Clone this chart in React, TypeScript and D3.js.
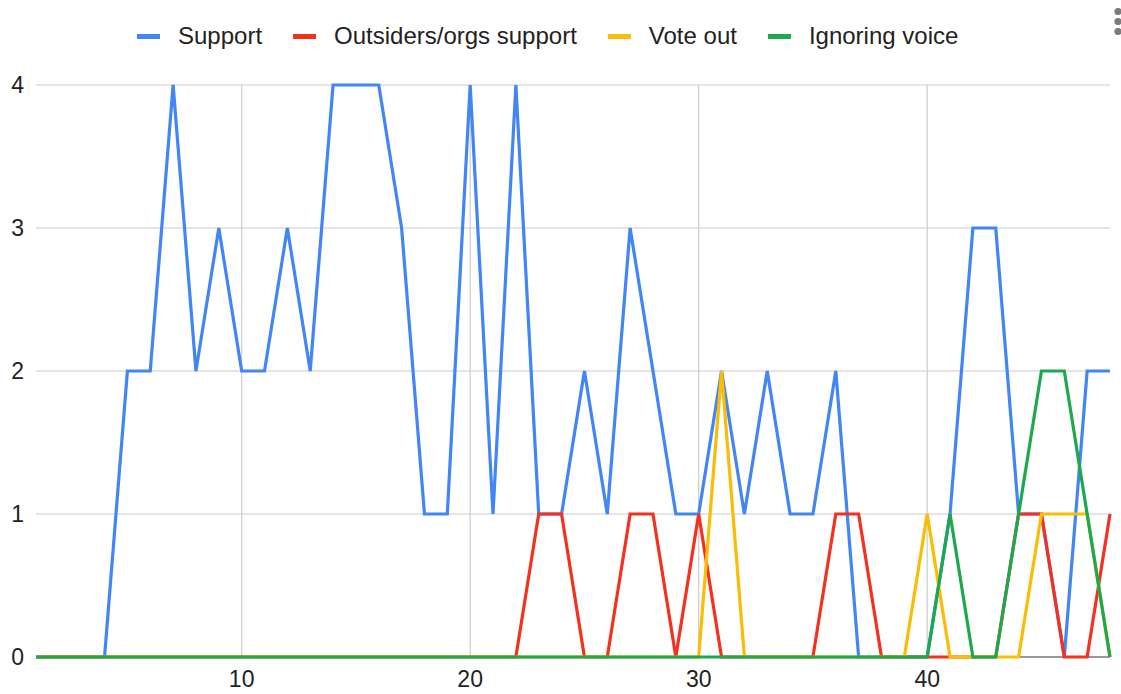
import React from "react";
import * as d3 from "d3";

const xValues = [1,2,3,4,5,6,7,8,9,10,11,12,13,14,15,16,17,18,19,20,21,22,23,24,25,26,27,28,29,30,31,32,33,34,35,36,37,38,39,40,41,42,43,44,45,46,47,48];
const support = [0,0,0,0,2,2,4,2,3,2,2,3,2,4,4,4,3,1,1,4,1,4,1,1,2,1,3,2,1,1,2,1,2,1,1,2,0,0,0,0,1,3,3,1,1,0,2,2];
const outsiders = [0,0,0,0,0,0,0,0,0,0,0,0,0,0,0,0,0,0,0,0,0,0,1,1,0,0,1,1,0,1,0,0,0,0,0,1,1,0,0,0,0,0,0,1,1,0,0,1];
const voteOut = [0,0,0,0,0,0,0,0,0,0,0,0,0,0,0,0,0,0,0,0,0,0,0,0,0,0,0,0,0,0,2,0,0,0,0,0,0,0,0,1,0,0,0,0,1,1,1,0];
const ignoring = [0,0,0,0,0,0,0,0,0,0,0,0,0,0,0,0,0,0,0,0,0,0,0,0,0,0,0,0,0,0,0,0,0,0,0,0,0,0,0,0,1,0,0,1,2,2,1,0];

const seriesNames = ["Support", "Outsiders/orgs support", "Vote out", "Ignoring voice"];
const seriesColors = ["#4285f4", "#f4301f", "#fbbc04", "#1ca84c"];
const seriesData = [support, outsiders, voteOut, ignoring];
const xTicks = [10, 20, 30, 40];
const yTicks = [0, 1, 2, 3, 4];

const W = 1121;
const H = 694;
const FONT = "'Liberation Sans', Arial, sans-serif";
const FS = 23;
const LFS = 24;

function measure(text: string, size: number): number {
  const c = document.createElement("canvas");
  const ctx = c.getContext("2d");
  if (!ctx) return text.length * size * 0.5;
  ctx.font = `${size}px ${FONT}`;
  return ctx.measureText(text).width;
}

export default function App() {
  const x = d3.scaleLinear().domain([1, 48]).range([36, 1110]);
  const y = d3.scaleLinear().domain([0, 4]).range([657, 85]);
  const line = d3
    .line<number>()
    .x((_, i) => x(xValues[i]))
    .y((d) => y(d));

  // legend layout
  const swW = 23;
  const gapText = 18;
  const gapItem = 31;
  let cursor = 137;
  const legendItems = seriesNames.map((name, i) => {
    const tw = measure(name, LFS);
    const item = { name, color: seriesColors[i], x: cursor, tx: cursor + swW + gapText };
    cursor += swW + gapText + tw + gapItem;
    return item;
  });

  return (
    <svg
      width={W}
      height={H}
      style={{ position: "absolute", left: 0, top: 0, background: "#fff" }}
      fontFamily={FONT}
    >
      <rect x={0} y={0} width={W} height={H} fill="#fff" />
      {/* grid */}
      {yTicks.filter((t) => t !== 0).map((t) => (
        <line key={"gy" + t} x1={x(1)} x2={x(48)} y1={y(t)} y2={y(t)} stroke="#cccccc" strokeWidth={1.2} />
      ))}
      {xTicks.map((t) => (
        <line key={"gx" + t} x1={x(t)} x2={x(t)} y1={y(4)} y2={y(0)} stroke="#cccccc" strokeWidth={1.2} />
      ))}
      <line x1={x(1)} x2={x(48)} y1={y(0)} y2={y(0)} stroke="#333" strokeWidth={1.2} />
      {/* series */}
      {seriesData.map((s, i) => (
        <path
          key={"s" + i}
          d={line(s) || ""}
          fill="none"
          stroke={seriesColors[i]}
          strokeWidth={3.2}
          strokeLinejoin="miter"
          strokeMiterlimit={4}
        />
      ))}
      {/* y labels */}
      {yTicks.map((t) => (
        <text key={"yl" + t} x={24} y={y(t) + 8} textAnchor="end" fontSize={FS} fill="#222">
          {t}
        </text>
      ))}
      {/* x labels */}
      {xTicks.map((t) => (
        <text key={"xl" + t} x={x(t)} y={687} textAnchor="middle" fontSize={FS} fill="#222">
          {t}
        </text>
      ))}
      {/* legend */}
      {legendItems.map((it) => (
        <g key={it.name}>
          <rect x={it.x} y={34} width={swW} height={5} fill={it.color} />
          <text x={it.tx} y={44} fontSize={LFS} fill="#222">
            {it.name}
          </text>
        </g>
      ))}
      {/* menu dots */}
      {[11.5, 21.5, 31.5].map((cy) => (
        <circle key={cy} cx={1118} cy={cy} r={3.6} fill="#7a7a7a" />
      ))}
    </svg>
  );
}
